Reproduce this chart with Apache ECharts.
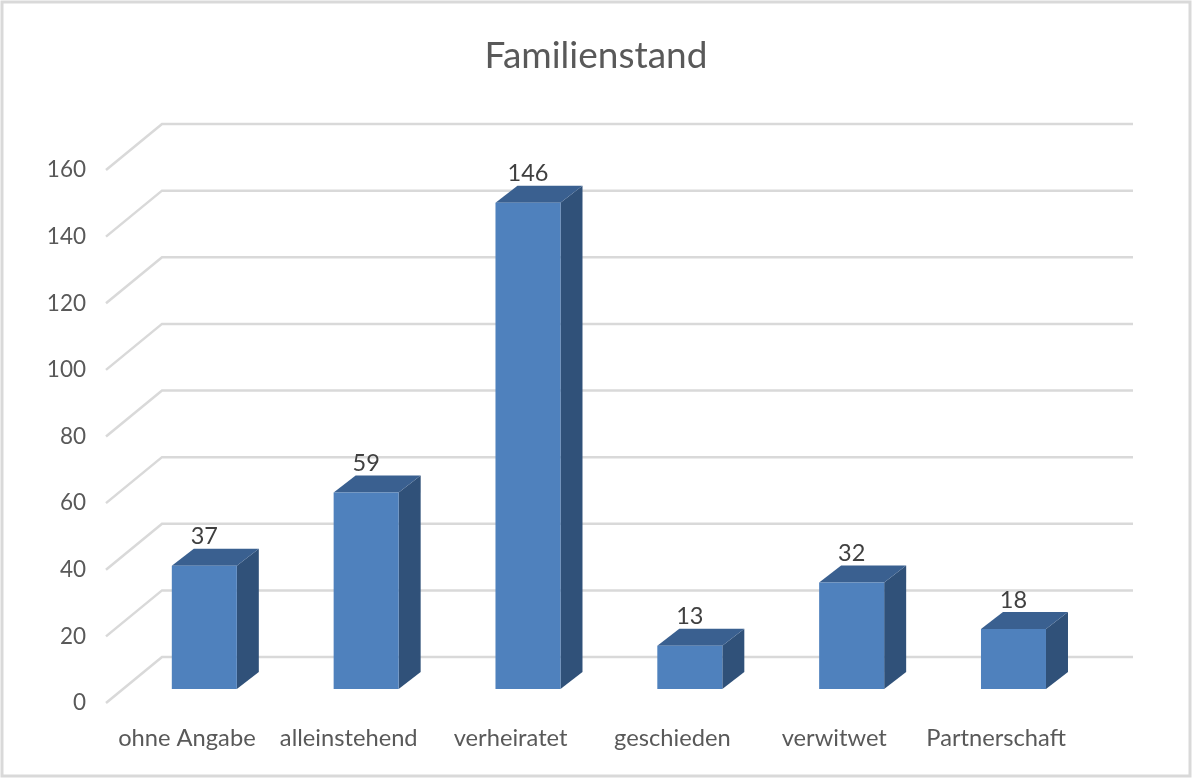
<!DOCTYPE html>
<html>
<head>
<meta charset="utf-8">
<style>html,body{margin:0;padding:0;background:#fff}#c{width:1192px;height:778px}</style>
<script src="https://cdn.jsdelivr.net/npm/echarts@6/dist/echarts.min.js"></script>
</head>
<body>
<div id="c"></div>
<script>
const categories = ['ohne Angabe','alleinstehend','verheiratet','geschieden','verwitwet','Partnerschaft'];
const values = [37,59,146,13,32,18];
const gridTicks = [0,20,40,60,80,100,120,140,160];
const FONT = 'Lato, "Noto Sans", sans-serif';
const TEXT = '#595959';
const WALL = [56,-46], BAR_SHIFT = [17.4,-14], DEPTH = [22,-17], BAR_RATIO = 65/161.8;

const chart = echarts.init(document.getElementById('c'), null, {renderer:'canvas'});
chart.setOption({
  animation:false,
  backgroundColor:'#fff',
  graphic:[{type:'rect',z:-1,shape:{x:2,y:2,width:1188,height:774},style:{fill:'#fff',stroke:'#d9d9d9',lineWidth:3}}],
  title:{text:'Familienstand',left:'center',top:33,
    textStyle:{fontFamily:FONT,fontSize:37,fontWeight:'normal',color:TEXT}},
  grid:{left:106,top:170,width:971,height:533},
  xAxis:{type:'category',data:categories,axisLine:{show:false},axisTick:{show:false},
    axisLabel:{interval:0,margin:23,fontFamily:FONT,fontSize:23.7,color:TEXT}},
  yAxis:{type:'value',min:0,max:160,interval:20,splitLine:{show:false},axisLine:{show:false},axisTick:{show:false},
    axisLabel:{margin:20,fontFamily:FONT,fontSize:22.5,color:TEXT,padding:[0,0,4,0]}},
  series:[
    {type:'custom',z:1,clip:false,silent:true,data:gridTicks.map(v=>[0,v]),
     renderItem(p,api){
       const y=api.coord([0,api.value(1)])[1], l=p.coordSys.x, w=p.coordSys.width;
       return {type:'polyline',shape:{points:[[l,y],[l+WALL[0],y+WALL[1]],[l+w+WALL[0],y+WALL[1]]]},
         style:{fill:null,stroke:'#d9d9d9',lineWidth:2.5}};
     }},
    {type:'custom',z:2,clip:false,silent:true,data:values.map((v,i)=>[i,v]),
     renderItem(p,api){
       const i=api.value(0),v=api.value(1);
       const top=api.coord([i,v]),base=api.coord([i,0]);
       const bw=api.size([1,0])[0]*BAR_RATIO;
       const x0=top[0]+BAR_SHIFT[0]-bw/2,x1=x0+bw,t=top[1]+BAR_SHIFT[1],b=base[1]+BAR_SHIFT[1];
       const dx=DEPTH[0],dy=DEPTH[1];
       return {type:'group',children:[
         {type:'polygon',shape:{points:[[x1,t],[x1+dx,t+dy],[x1+dx,b+dy],[x1,b]]},style:{fill:'#305179'}},
         {type:'polygon',shape:{points:[[x0,t],[x0+dx,t+dy],[x1+dx,t+dy],[x1,t]]},style:{fill:'#3a6090'}},
         {type:'rect',shape:{x:x0,y:t,width:bw,height:b-t},style:{fill:'#4f81bd'}},
         {type:'text',style:{text:String(v),x:(x0+x1)/2,y:t-29,align:'center',verticalAlign:'middle',
           fontFamily:FONT,fontSize:23.5,fill:'#404040'}}
       ]};
     }}
  ]
});
</script>
</body>
</html>
